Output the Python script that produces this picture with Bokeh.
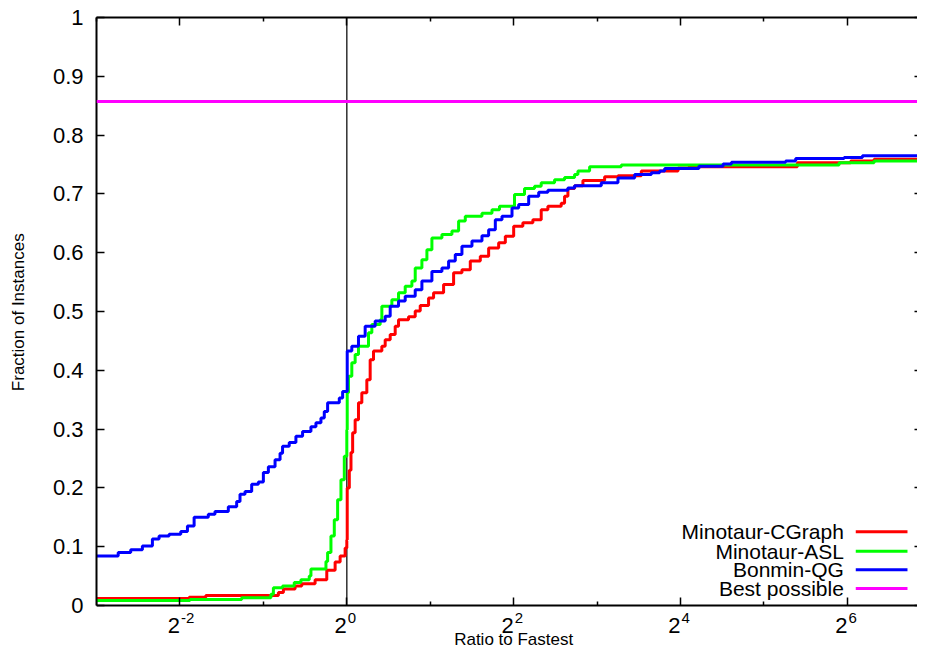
from bokeh.plotting import figure
from bokeh.models import (Range1d, FixedTicker, LogAxis, LinearAxis, Span, Label,
                          CustomJSTickFormatter, NumeralTickFormatter)
from bokeh.embed import file_html
from bokeh.resources import INLINE

# ---------------- data (log2 of ratio to fastest, fraction of instances) ----------------
cgraph_log2_ratio = [-3.0, -1.89, -1.69, -0.82, -0.76, -0.62, -0.54, -0.38, -0.24, -0.14, -0.08,
                     -0.02, 0.0, 0.005, 0.03, 0.05, 0.07, 0.10, 0.14, 0.18, 0.24, 0.28, 0.32, 0.42,
                     0.46, 0.52, 0.58, 0.62, 0.74, 0.82, 0.88, 0.98, 1.04, 1.16, 1.28, 1.38, 1.48,
                     1.60, 1.70, 1.82, 1.90, 2.00, 2.11, 2.23, 2.33, 2.41, 2.57, 2.61, 2.65, 2.73,
                     2.83, 3.09, 3.25, 3.53, 3.97, 4.10, 5.40, 6.04, 6.32, 7.0]
cgraph_fraction = [0.012, 0.014, 0.017, 0.022, 0.028, 0.033, 0.037, 0.044, 0.060, 0.074, 0.084,
                   0.098, 0.112, 0.200, 0.230, 0.260, 0.294, 0.316, 0.345, 0.362, 0.384, 0.418,
                   0.433, 0.441, 0.452, 0.461, 0.475, 0.486, 0.491, 0.501, 0.510, 0.523, 0.532,
                   0.546, 0.566, 0.571, 0.586, 0.594, 0.608, 0.617, 0.628, 0.645, 0.651, 0.656,
                   0.673, 0.679, 0.684, 0.696, 0.709, 0.714, 0.723, 0.729, 0.731, 0.739, 0.744,
                   0.746, 0.753, 0.756, 0.759, 0.759]

asl_log2_ratio = [-3.0, -1.88, -1.26, -0.91, -0.88, -0.77, -0.63, -0.55, -0.45, -0.43, -0.25,
                  -0.23, -0.19, -0.15, -0.11, -0.07, -0.03, 0.0, 0.005, 0.02, 0.06, 0.10, 0.14,
                  0.26, 0.30, 0.40, 0.42, 0.54, 0.62, 0.70, 0.78, 0.82, 0.90, 0.96, 1.02, 1.14,
                  1.26, 1.34, 1.42, 1.62, 1.74, 1.83, 2.01, 2.13, 2.25, 2.33, 2.49, 2.61, 2.73,
                  2.77, 2.91, 3.29, 5.90, 6.32, 7.0]
asl_fraction = [0.0085, 0.010, 0.013, 0.019, 0.030, 0.033, 0.039, 0.044, 0.050, 0.062, 0.075,
                0.090, 0.118, 0.146, 0.180, 0.214, 0.254, 0.299, 0.362, 0.390, 0.413, 0.427,
                0.441, 0.464, 0.478, 0.486, 0.509, 0.520, 0.532, 0.543, 0.552, 0.574, 0.588,
                0.605, 0.625, 0.631, 0.637, 0.654, 0.662, 0.667, 0.673, 0.679, 0.699, 0.709,
                0.713, 0.719, 0.724, 0.728, 0.733, 0.739, 0.746, 0.749, 0.753, 0.756, 0.756]

qg_log2_ratio = [-3.0, -2.74, -2.59, -2.45, -2.33, -2.25, -2.13, -1.99, -1.91, -1.83, -1.66,
                 -1.58, -1.42, -1.32, -1.28, -1.22, -1.14, -1.06, -1.00, -0.94, -0.86, -0.80,
                 -0.77, -0.69, -0.61, -0.53, -0.43, -0.37, -0.31, -0.27, -0.23, -0.09, -0.05,
                 0.005, 0.06, 0.14, 0.22, 0.34, 0.46, 0.52, 0.62, 0.70, 0.82, 0.90, 1.02, 1.14,
                 1.22, 1.30, 1.38, 1.50, 1.62, 1.70, 1.78, 1.86, 1.98, 2.06, 2.18, 2.30, 2.41,
                 2.65, 2.73, 3.05, 3.25, 3.45, 3.65, 3.75, 3.81, 4.22, 4.51, 4.61, 5.26, 5.38,
                 5.96, 6.18, 7.0]
qg_fraction = [0.084, 0.090, 0.095, 0.101, 0.113, 0.118, 0.121, 0.126, 0.135, 0.150, 0.155,
               0.160, 0.168, 0.177, 0.189, 0.194, 0.206, 0.210, 0.226, 0.236, 0.248, 0.259,
               0.271, 0.277, 0.288, 0.296, 0.304, 0.311, 0.319, 0.330, 0.345, 0.353, 0.364,
               0.433, 0.441, 0.458, 0.475, 0.484, 0.492, 0.509, 0.518, 0.526, 0.537, 0.552,
               0.568, 0.574, 0.586, 0.597, 0.611, 0.620, 0.629, 0.639, 0.656, 0.662, 0.676,
               0.682, 0.696, 0.703, 0.706, 0.710, 0.714, 0.719, 0.727, 0.733, 0.736, 0.739,
               0.743, 0.747, 0.751, 0.754, 0.756, 0.760, 0.762, 0.765, 0.765]

best_possible = 0.857
reference_ratio = 1

series_names = ["Minotaur-CGraph", "Minotaur-ASL", "Bonmin-QG", "Best possible"]
series_colors = ["#ff0000", "#00ff00", "#0000ff", "#ff00ff"]

x_major_ticks = [0.25, 1, 4, 16, 64]
x_major_exponents = ["-2", "0", "2", "4", "6"]
x_minor_ticks = [0.125, 0.5, 2, 8, 32, 128]
y_ticks = [0, 0.1, 0.2, 0.3, 0.4, 0.5, 0.6, 0.7, 0.8, 0.9, 1.0]

# ---------------- layout constants ----------------
FONT = "Liberation Sans"
PX_PER_UNIT = 588.0            # vertical pixels per unit fraction
BELOW_PX = 44.0                # frame extends this far below fraction 0 (label area)

def px_down(px):
    return -px / PX_PER_UNIT

p = figure(width=917, height=649, x_axis_type="log",
           x_range=Range1d(2 ** -3, 2 ** 6.84),
           y_range=Range1d(px_down(BELOW_PX), 1),
           output_backend="svg", toolbar_location=None,
           min_border_left=96, min_border_right=0, min_border_top=17, min_border_bottom=0)
p.outline_line_color = None
p.grid.visible = False
p.background_fill_color = "white"
p.border_fill_color = "white"

xa = p.xaxis[0]
xa.ticker = FixedTicker(ticks=x_major_ticks, minor_ticks=x_minor_ticks)
xa.formatter = CustomJSTickFormatter(code="return ''")
xa.fixed_location = 0

ya = p.yaxis[0]
ya.ticker = FixedTicker(ticks=y_ticks)
ya.formatter = NumeralTickFormatter(format="0.[0]")
# leading no-break spaces shift the centred title up to the middle of the 0..1 span
ya.axis_label = "\u00a0" * 9 + "Fraction of Instances"
ya.bounds = (0, 1)

for ax in (xa, ya):
    ax.axis_line_color = "black"
    ax.axis_line_width = 2
    ax.major_tick_line_color = "black"
    ax.major_tick_line_width = 1.5
    ax.minor_tick_line_width = 1.5
    ax.major_tick_in = 8
    ax.major_tick_out = 0
    ax.minor_tick_in = 4
    ax.minor_tick_out = 0
    ax.major_label_text_font = FONT
    ax.major_label_text_font_size = "22px"
    ax.major_label_text_color = "black"
    ax.axis_label_text_font = FONT
    ax.axis_label_text_font_size = "17px"
    ax.axis_label_text_font_style = "normal"
    ax.axis_label_text_color = "black"
xa.minor_tick_line_color = "black"
ya.minor_tick_line_color = None

xa.major_label_text_font_size = "0px"
xa.major_label_standoff = 0
ya.major_label_standoff = 13
ya.axis_label_standoff = 22

top = LogAxis(ticker=FixedTicker(ticks=x_major_ticks, minor_ticks=x_minor_ticks),
              formatter=CustomJSTickFormatter(code="return ''"),
              major_label_text_font_size="0px", major_label_standoff=0,
              axis_line_color="black", axis_line_width=2,
              major_tick_in=8, major_tick_out=0, minor_tick_in=4, minor_tick_out=0,
              major_tick_line_color="black", minor_tick_line_color="black",
              major_tick_line_width=1.5, minor_tick_line_width=1.5)
p.add_layout(top, "above")

right = LinearAxis(ticker=FixedTicker(ticks=y_ticks), bounds=(0, 1),
                   formatter=CustomJSTickFormatter(code="return ''"),
                   major_label_text_font_size="0px", major_label_standoff=0,
                   axis_line_color=None, minor_tick_line_color=None,
                   major_tick_in=3, major_tick_out=0,
                   major_tick_line_color="black", major_tick_line_width=1.5)
p.add_layout(right, "right")

# x tick labels: base "2" with a raised exponent, inside the extended frame
for tick, expo in zip(x_major_ticks, x_major_exponents):
    p.add_layout(Label(x=tick, y=px_down(20), text="2", x_offset=0,
                       text_align="right", text_baseline="middle", text_font=FONT,
                       text_font_size="22px", text_color="black"))
    p.add_layout(Label(x=tick, y=px_down(12), text=expo, x_offset=1,
                       text_align="left", text_baseline="middle",
                       text_font=FONT, text_font_size="15px", text_color="black"))

# x axis title
p.add_layout(Label(x=x_major_ticks[2], y=px_down(33.5), text="Ratio to Fastest",
                   text_align="center", text_baseline="middle", text_font=FONT,
                   text_font_size="17px", text_color="black"))

# vertical reference line at ratio 1
p.segment(x0=[reference_ratio], y0=[0], x1=[reference_ratio], y1=[1],
          line_color="#303030", line_width=1.5, level="underlay")

# ---------------- curves ----------------
curves = [
    (cgraph_log2_ratio, cgraph_fraction),
    (asl_log2_ratio, asl_fraction),
    (qg_log2_ratio, qg_fraction),
]
for (lx, fy), color in zip(curves, series_colors[:3]):
    ratio = [2.0 ** v for v in lx]
    p.step(ratio, fy, mode="after", line_color=color, line_width=3)

p.add_layout(Span(location=best_possible, dimension="width",
                  line_color=series_colors[3], line_width=3))

# ---------------- legend (gnuplot style: text then sample) ----------------
leg_text_x = 2 ** 5.957
leg_line_x0 = 2 ** 6.10
leg_line_x1 = 2 ** 6.72
leg_rows_y = [0.1253, 0.0923, 0.0607, 0.0289]

for name, color, yy in zip(series_names, series_colors, leg_rows_y):
    p.add_layout(Label(x=leg_text_x, y=yy, text=name, text_align="right",
                       text_baseline="middle", text_font=FONT,
                       text_font_size="21px", text_color="black"))
p.segment(x0=[leg_line_x0] * 4, y0=leg_rows_y, x1=[leg_line_x1] * 4, y1=leg_rows_y,
          line_color=series_colors, line_width=3)

open("out.html", "w").write(file_html(p, INLINE))
